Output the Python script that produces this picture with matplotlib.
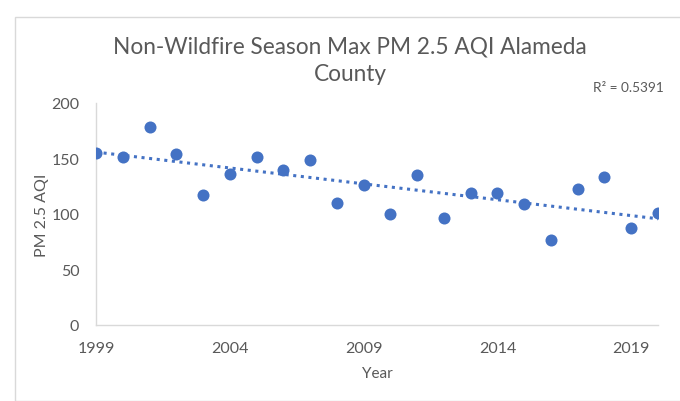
import matplotlib
matplotlib.use("Agg")
import matplotlib.pyplot as plt
import numpy as np
from matplotlib.patches import Rectangle

years = [1999, 2000, 2001, 2002, 2003, 2004, 2005, 2006, 2007, 2008, 2009,
         2010, 2011, 2012, 2013, 2014, 2015, 2016, 2017, 2018, 2019, 2020]
aqi = [155, 151, 178, 154, 117, 136, 151, 140, 149, 110, 126,
       100, 135, 96, 119, 119, 109, 76, 122, 133, 87, 101]
x_ticks = [1999, 2004, 2009, 2014, 2019]
y_ticks = [0, 50, 100, 150, 200]
title = "Non-Wildfire Season Max PM 2.5 AQI Alameda\nCounty"
r2_label = "R² = 0.5391"

plt.rcParams['font.family'] = ['Lato', 'DejaVu Sans']
txt = '#595959'
blue = '#4472C4'

fig = plt.figure(figsize=(6.8, 4.02), dpi=100)
fig.patches.append(Rectangle((15/680, 0), 1.2, (402-18)/402, transform=fig.transFigure,
                             fill=False, edgecolor='#D9D9D9', linewidth=1))
ax = fig.add_axes([96/680, 1-325.7/402, (658-96)/680, (325.7-104)/402])

x = np.array(years, dtype=float)
y = np.array(aqi, dtype=float)
m, b = np.polyfit(x, y, 1)
xl = np.array([years[0], years[-1]], dtype=float)
ax.plot(xl, m*xl + b, linestyle=(0, (1, 1.5)), color=blue, linewidth=2.2, zorder=2)
ax.scatter(x, y, s=75, color=blue, zorder=3, linewidths=0)

ax.set_xlim(years[0], years[-1])
ax.set_ylim(0, 200)
ax.set_xticks(x_ticks)
ax.set_yticks(y_ticks)
for s in ['top', 'right']:
    ax.spines[s].set_visible(False)
for s in ['left', 'bottom']:
    ax.spines[s].set_color('#D9D9D9')
    ax.spines[s].set_linewidth(1)
ax.tick_params(axis='both', length=0, labelsize=11.5, labelcolor=txt)
ax.tick_params(axis='x', pad=12)
ax.tick_params(axis='y', pad=12)
ax.set_xlabel('Year', fontsize=11, color=txt, labelpad=8)
ax.set_ylabel('PM 2.5 AQI', fontsize=11.5, color=txt, labelpad=1.5)

fig.text(350/680, 1-61/402, title, ha='center', va='center', fontsize=16.3,
         color=txt, linespacing=1.4)
fig.text(628/680, 1-88/402, r2_label, ha='center', va='center', fontsize=9.8, color=txt)

fig.savefig('out.png', dpi=100)
